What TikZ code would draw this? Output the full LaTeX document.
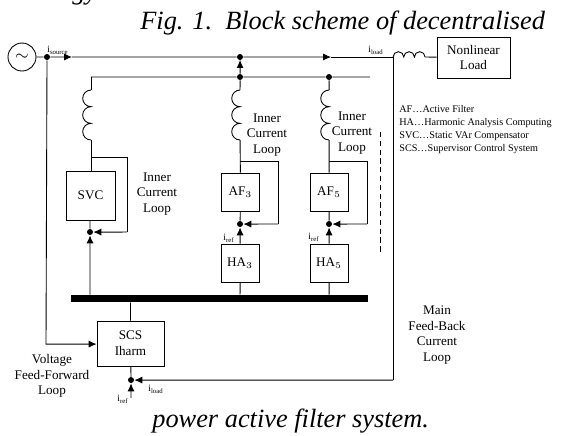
\documentclass[tikz,border=0pt]{standalone}
\usepackage{fontspec}
\setmainfont{Liberation Serif}
\usepackage{tikz}
\usetikzlibrary{arrows.meta}
\tikzset{
  blockbox/.style={draw=black,line width=0.5pt,inner sep=0pt,align=center,font=\fontsize{7.5}{9}\selectfont},
  lbl/.style={inner sep=0pt,align=center,font=\fontsize{7.5}{9}\selectfont},
  cur/.style={inner sep=0pt,font=\fontsize{5.5}{7}\selectfont},
  capt/.style={inner sep=0pt,anchor=base west,font=\fontsize{15}{17}\selectfont\itshape},
  wire/.style={black,line width=0.5pt},
  tip/.style={wire,-{Latex[length=4.5pt,width=4pt]}},
  dot/.style={circle,fill=black,inner sep=0pt,minimum size=3.4pt}
}
\begin{document}
\begin{tikzpicture}[scale=0.02]
\useasboundingbox (0,0) rectangle (565,-435);
\clip (0,0) rectangle (565,-435);
% captions
\node [capt] (capgy) at (72,1) {gy};
\node [capt] (captop) at (140,-29) {Fig. 1.~~Block scheme of decentralised};
\node [capt] (capbot) at (152,-427) {power active filter system.};
% blocks
\node [draw=black,line width=0.5pt,circle,minimum size=0.56cm,inner sep=0pt] (src) at (22,-57) {\raisebox{-3pt}{$\sim$}};
\node [blockbox,minimum width=1.46cm,minimum height=0.82cm] (load) at (473.5,-57.5) {Nonlinear\\Load};
\node [blockbox,minimum width=0.98cm,minimum height=0.98cm] (svc) at (90.5,-195.5) {SVC};
\node [blockbox,minimum width=0.76cm,minimum height=0.76cm] (afa) at (240.5,-192) {AF$_3$};
\node [blockbox,minimum width=0.76cm,minimum height=0.76cm] (afb) at (329,-192) {AF$_5$};
\node [blockbox,minimum width=0.76cm,minimum height=0.76cm] (haa) at (240,-263) {HA$_3$};
\node [blockbox,minimum width=0.76cm,minimum height=0.76cm] (hab) at (329,-263) {HA$_5$};
\node [blockbox,minimum width=1.34cm,minimum height=0.9cm] (scs) at (130.5,-343.5) {SCS\\Iharm};
\node [fill=black,inner sep=0pt,minimum width=5.94cm,minimum height=0.14cm] (bar) at (219.5,-298.5) {};
% junctions
\node [dot] (jfeed) at (47,-57) {};
\node [dot] (jtop) at (240,-57) {};
\node [dot] (jbusa) at (240,-77) {};
\node [dot] (jbusb) at (329,-77) {};
\node [dot] (jsvc) at (90,-232) {};
\node [dot] (jafa) at (240,-224) {};
\node [dot] (jafb) at (329,-224) {};
\node [dot] (jscs) at (131,-380) {};
\coordinate (tapmain) at (393,-57);
\coordinate (coilend) at (425,-57);
\coordinate (arsrc) at (72,-57);
\coordinate (arload) at (331,-57);
\coordinate (arbus) at (240,-60);
\coordinate (busleft) at (91,-77);
\coordinate (busright) at (370,-77);
\coordinate (coilsvc) at (91,-90);
\coordinate (coilsvce) at (91,-140);
\coordinate (coila) at (240,-90);
\coordinate (coilae) at (240,-140);
\coordinate (coilb) at (329,-90);
\coordinate (coilbe) at (329,-140);
\coordinate (fsvc) at (91,-157);
\coordinate (fsvcr) at (127,-157);
\coordinate (fsvcd) at (127,-232);
\coordinate (fa) at (240,-161);
\coordinate (far) at (278,-161);
\coordinate (fad) at (278,-224);
\coordinate (fb) at (329,-161);
\coordinate (fbr) at (367,-161);
\coordinate (fbd) at (367,-224);
\coordinate (mainc) at (393,-380);
\coordinate (feedc) at (46,-344);
\coordinate (irefin) at (131,-398);
\coordinate (dasha) at (380,-132);
\coordinate (dashb) at (380,-252);
% source and load line
\draw [wire] (src) -- (jfeed);
\draw [tip] (jfeed) -- (arsrc);
\draw [wire] (arsrc) -- (jtop);
\draw [tip] (jtop) -- (arload);
\draw [wire] (arload) -- (tapmain);
\draw [wire] (coilend) -- (load);
\draw [wire] (tapmain) arc (180:0:5.33) arc (180:0:5.33) arc (180:0:5.33);
% shunt bus
\draw [wire] (busleft) -- (jbusa) -- (jbusb) -- (busright);
\draw [tip] (jbusa) -- (arbus);
\draw [wire] (arbus) -- (jtop);
% branches
\draw [wire] (busleft) -- (coilsvc);
\draw [wire] (coilsvce) -- (svc.north -| coilsvce);
\draw [wire] (coilsvc) arc (90:270:8.33) arc (90:270:8.33) arc (90:270:8.33);
\draw [wire] (jbusa) -- (coila);
\draw [wire] (coilae) -- (afa);
\draw [wire] (coila) arc (90:270:8.33) arc (90:270:8.33) arc (90:270:8.33);
\draw [wire] (jbusb) -- (coilb);
\draw [wire] (coilbe) -- (afb);
\draw [wire] (coilb) arc (90:270:8.33) arc (90:270:8.33) arc (90:270:8.33);
% inner loops
\draw [wire] (fsvc) -- (fsvcr) -- (fsvcd);
\draw [tip] (fsvcd) -- (jsvc);
\draw [wire] (fa) -- (far) -- (fad);
\draw [tip] (fad) -- (jafa);
\draw [wire] (fb) -- (fbr) -- (fbd);
\draw [tip] (fbd) -- (jafb);
\draw [wire] (svc.south -| jsvc) -- (jsvc);
\draw [tip] (bar.north -| jsvc) -- (jsvc);
\draw [wire] (afa) -- (jafa);
\draw [tip] (haa) -- (jafa);
\draw [wire] (afb) -- (jafb);
\draw [tip] (hab) -- (jafb);
\draw [wire] (haa) -- (bar.north -| haa);
\draw [wire] (hab) -- (bar.north -| hab);
\draw [wire] (bar.south -| scs) -- (scs);
% main loops
\draw [tip] (jfeed) -- (feedc) -- (scs.west |- feedc);
\draw [wire] (tapmain) -- (mainc);
\draw [tip] (mainc) -- (jscs);
\draw [wire] (scs) -- (jscs);
\draw [tip] (irefin) -- (jscs);
\draw [wire,densely dashed] (dasha) -- (dashb);
% labels
\node [cur] (isrc) at (58,-50) {i$_{\mathrm{source}}$};
\node [cur] (iload) at (376,-50) {i$_{\mathrm{load}}$};
\node [cur] (irefa) at (229,-238) {i$_{\mathrm{ref}}$};
\node [cur] (irefb) at (314,-237) {i$_{\mathrm{ref}}$};
\node [cur] (irefs) at (123,-399) {i$_{\mathrm{ref}}$};
\node [cur] (iloads) at (156,-389) {i$_{\mathrm{load}}$};
\node [lbl] (ilsvc) at (157,-194) {Inner\\Current\\Loop};
\node [lbl] (ila) at (267,-135) {Inner\\Current\\Loop};
\node [lbl] (ilb) at (352,-133) {Inner\\Current\\Loop};
\node [lbl] (lmain) at (437,-335) {Main\\Feed-Back\\Current\\Loop};
\node [lbl] (lvolt) at (52,-376) {Voltage\\Feed-Forward\\Loop};
\node [lbl,align=left,anchor=north west,font=\fontsize{5.8}{7.4}\selectfont] (legend) at (399,-105) {AF\dots Active Filter\\HA\dots Harmonic Analysis Computing\\SVC\dots Static VAr Compensator\\SCS\dots Supervisor Control System};
\end{tikzpicture}
\end{document}
